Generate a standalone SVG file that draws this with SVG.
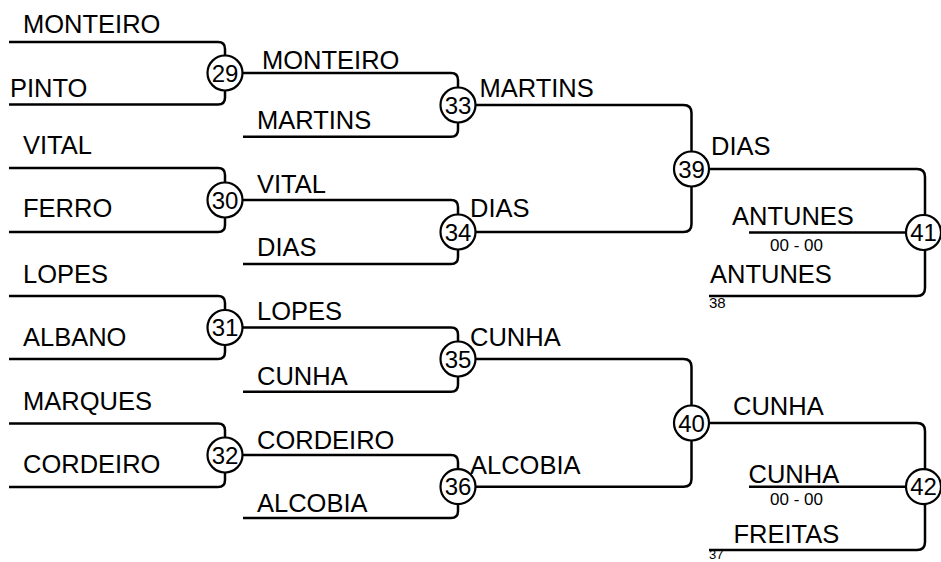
<svg xmlns="http://www.w3.org/2000/svg" width="941" height="562" viewBox="0 0 941 562">
<style>
.ln{fill:none;stroke:#000;stroke-width:2.5;stroke-linejoin:round}
.c{fill:#fff;stroke:#000;stroke-width:2.2}
.n{font-family:"Liberation Sans",Arial,sans-serif;font-size:25.5px;fill:#000}
.num{font-family:"Liberation Sans",Arial,sans-serif;font-size:24px;fill:#000;text-anchor:middle}
.sc{font-family:"Liberation Sans",Arial,sans-serif;font-size:17px;fill:#000;text-anchor:middle}
.sm{font-family:"Liberation Sans",Arial,sans-serif;font-size:15px;fill:#000}
</style>
<rect width="941" height="562" fill="#fff"/>
<g id="connectors">
<path class="ln" d="M9,42 H218 Q225,42 225,49 V73"/>
<path class="ln" d="M9,104.5 H218 Q225,104.5 225,97.5 V73"/>
<path class="ln" d="M9,168 H218 Q225,168 225,175 V200"/>
<path class="ln" d="M9,232 H218 Q225,232 225,225 V200"/>
<path class="ln" d="M9,296 H218 Q225,296 225,303 V327.5"/>
<path class="ln" d="M9,359 H218 Q225,359 225,352 V327.5"/>
<path class="ln" d="M9,423.5 H218 Q225,423.5 225,430.5 V455"/>
<path class="ln" d="M9,487 H218 Q225,487 225,480 V455"/>
<path class="ln" d="M225,73 H451 Q458,73 458,80 V105"/>
<path class="ln" d="M243,136.7 H451 Q458,136.7 458,129.7 V105"/>
<path class="ln" d="M225,200 H451 Q458,200 458,207 V232"/>
<path class="ln" d="M243,264 H451 Q458,264 458,257 V232"/>
<path class="ln" d="M225,327.5 H451 Q458,327.5 458,334.5 V359"/>
<path class="ln" d="M243,391.7 H451 Q458,391.7 458,384.7 V359"/>
<path class="ln" d="M225,455 H451 Q458,455 458,462 V486.7"/>
<path class="ln" d="M243,518 H451 Q458,518 458,511 V486.7"/>
<path class="ln" d="M458,105 H683.5 Q691.5,105 691.5,113 V169"/>
<path class="ln" d="M458,232 H683.5 Q691.5,232 691.5,224 V169"/>
<path class="ln" d="M458,359 H683.5 Q691.5,359 691.5,367 V423"/>
<path class="ln" d="M458,486.7 H683.5 Q691.5,486.7 691.5,478.7 V423"/>
<path class="ln" d="M691.5,169 H917 Q925,169 925,177 V232.5"/>
<path class="ln" d="M749,232.5 H925"/>
<path class="ln" d="M709,296 H917 Q925,296 925,288 V232.5"/>
<path class="ln" d="M691.5,423 H917 Q925,423 925,431 V486.7"/>
<path class="ln" d="M749,486.7 H925"/>
<path class="ln" d="M709,550 H917 Q925,550 925,542 V486.7"/>
</g>
<g id="labels">
<text class="n" x="23" y="32.5">MONTEIRO</text>
<text class="n" x="10" y="96.5">PINTO</text>
<text class="n" x="23" y="153.5">VITAL</text>
<text class="n" x="23" y="216.5">FERRO</text>
<text class="n" x="23" y="282.5">LOPES</text>
<text class="n" x="23" y="345.5">ALBANO</text>
<text class="n" x="23" y="409.5">MARQUES</text>
<text class="n" x="23" y="472.5">CORDEIRO</text>
<text class="n" x="262" y="68.5">MONTEIRO</text>
<text class="n" x="257" y="128.5">MARTINS</text>
<text class="n" x="257" y="192.5">VITAL</text>
<text class="n" x="257" y="255.5">DIAS</text>
<text class="n" x="257" y="320">LOPES</text>
<text class="n" x="257" y="385">CUNHA</text>
<text class="n" x="257" y="448.5">CORDEIRO</text>
<text class="n" x="257" y="511.5">ALCOBIA</text>
<text class="n" x="479.5" y="96.5">MARTINS</text>
<text class="n" x="470" y="216.5">DIAS</text>
<text class="n" x="470" y="346">CUNHA</text>
<text class="n" x="470" y="474">ALCOBIA</text>
<text class="n" x="711" y="155">DIAS</text>
<text class="n" x="732" y="225">ANTUNES</text>
<text class="n" x="710" y="283">ANTUNES</text>
<text class="n" x="733" y="415">CUNHA</text>
<text class="n" x="748.5" y="482.5">CUNHA</text>
<text class="n" x="733.5" y="542.5">FREITAS</text>
<text class="sc" x="796.5" y="251">00 - 00</text>
<text class="sc" x="796.5" y="504.5">00 - 00</text>
<text class="sm" x="709" y="308">38</text>
<text class="sm" x="709" y="559" style="font-size:13px">37</text>
</g>
<g id="m29"><circle class="c" cx="225" cy="73" r="17.5"/><text class="num" x="225" y="81.5">29</text></g>
<g id="m30"><circle class="c" cx="225" cy="200" r="17.5"/><text class="num" x="225" y="208.5">30</text></g>
<g id="m31"><circle class="c" cx="225" cy="327.5" r="17.5"/><text class="num" x="225" y="336">31</text></g>
<g id="m32"><circle class="c" cx="225" cy="455" r="17.5"/><text class="num" x="225" y="463.5">32</text></g>
<g id="m33"><circle class="c" cx="458" cy="105" r="17.5"/><text class="num" x="458" y="113.5">33</text></g>
<g id="m34"><circle class="c" cx="458" cy="232" r="17.5"/><text class="num" x="458" y="240.5">34</text></g>
<g id="m35"><circle class="c" cx="458" cy="359" r="17.5"/><text class="num" x="458" y="367.5">35</text></g>
<g id="m36"><circle class="c" cx="458" cy="486.7" r="17.5"/><text class="num" x="458" y="495.2">36</text></g>
<g id="m39"><circle class="c" cx="691.5" cy="169" r="17.5"/><text class="num" x="691.5" y="177.5">39</text></g>
<g id="m40"><circle class="c" cx="691.5" cy="423" r="17.5"/><text class="num" x="691.5" y="431.5">40</text></g>
<g id="m41"><circle class="c" cx="923.5" cy="232.5" r="17.5"/><text class="num" x="923.5" y="241">41</text></g>
<g id="m42"><circle class="c" cx="923.5" cy="486.7" r="17.5"/><text class="num" x="923.5" y="495.2">42</text></g>
</svg>
